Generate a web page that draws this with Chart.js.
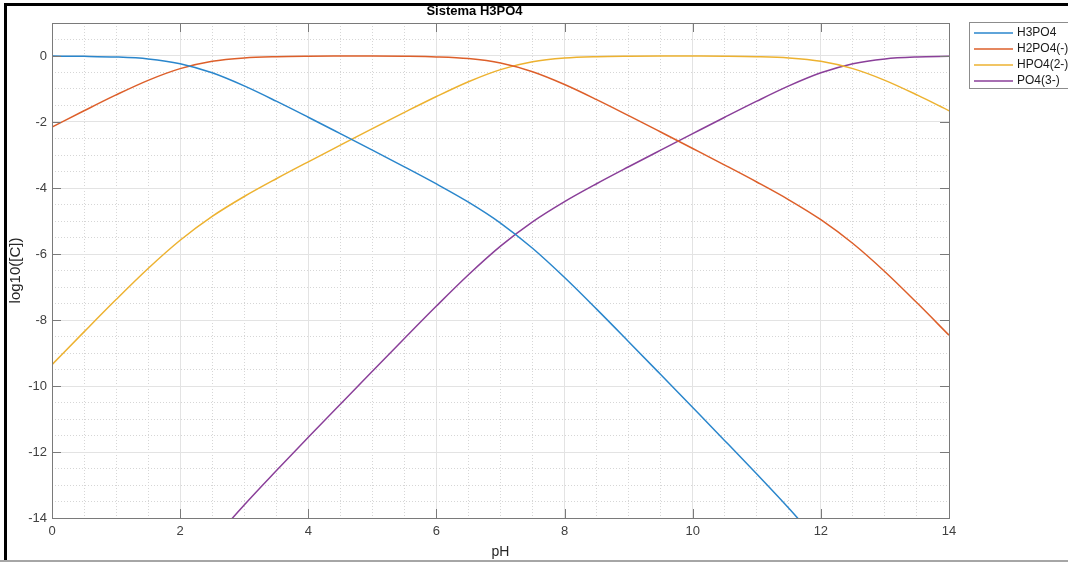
<!DOCTYPE html>
<html lang="es">
<head>
<meta charset="UTF-8">
<title>Sistema H3PO4</title>
<script src="https://cdn.jsdelivr.net/npm/chart.js@4.4.1/dist/chart.umd.min.js"></script>
<style>
  html, body { margin: 0; padding: 0; background: #fff; }
  #chartContainer { position: relative; width: 1068px; height: 562px; }
</style>
</head>
<body>
<div id="chartContainer"><canvas id="grafico"></canvas></div>
<script>
// valores (log10 de la concentracion, cada 0.5 de pH)
const ph = [0, 0.5, 1, 1.5, 2, 2.5, 3, 3.5, 4, 4.5, 5, 5.5, 6, 6.5, 7, 7.5,
            8, 8.5, 9, 9.5, 10, 10.5, 11, 11.5, 12, 12.5, 13, 13.5, 14];
const h3po4 = [-0.003, -0.010, -0.030, -0.088, -0.233, -0.510, -0.907, -1.369, -1.856, -2.353,
               -2.853, -3.359, -3.877, -4.429, -5.062, -5.827, -6.714, -7.671, -8.657, -9.653,
               -10.653, -11.656, -12.669, -13.707, -14.810, -16.03, -17.39, -18.83, -20.31];
const h2po4 = [-2.153, -1.660, -1.180, -0.738, -0.383, -0.160, -0.057, -0.019, -0.006, -0.003,
               -0.003, -0.009, -0.027, -0.079, -0.212, -0.477, -0.864, -1.321, -1.807, -2.303,
               -2.803, -3.306, -3.819, -4.357, -4.960, -5.683, -6.538, -7.480, -8.460];
const hpo4 = [-9.353, -8.360, -7.380, -6.438, -5.583, -4.860, -4.257, -3.719, -3.206, -2.703,
              -2.203, -1.709, -1.227, -0.779, -0.412, -0.177, -0.064, -0.021, -0.007, -0.003,
              -0.003, -0.006, -0.019, -0.057, -0.160, -0.383, -0.738, -1.180, -1.660];
const po4 = [-21.70, -20.21, -18.73, -17.29, -15.93, -14.71, -13.607, -12.569, -11.556, -10.553,
             -9.553, -8.559, -7.577, -6.629, -5.762, -5.027, -4.414, -3.871, -3.357, -2.853,
             -2.353, -1.856, -1.369, -0.907, -0.510, -0.233, -0.088, -0.030, -0.010];
const especies = ['H3PO4', 'H2PO4(-)', 'HPO4(2-)', 'PO4(3-)'];
const colores = ['#2a86cc', '#dd5f2a', '#edb230', '#8a3f99'];
const xTicks = [0, 2, 4, 6, 8, 10, 12, 14];
const yTicks = [0, -2, -4, -6, -8, -10, -12, -14];

const fuente = "'Liberation Sans', Arial, sans-serif";
const colorEje = '#7a7a7a';

function puntos(serie) {
    return ph.map((x, i) => ({ x: x, y: serie[i] }));
}

const series = [h3po4, h2po4, hpo4, po4];
const datasets = series.map((s, i) => ({
    label: especies[i],
    data: puntos(s),
    borderColor: colores[i],
    backgroundColor: colores[i],
    borderWidth: 1.5,
    pointRadius: 0,
    fill: false,
    cubicInterpolationMode: 'monotone'
}));

function esMayor(v, lista) {
    return lista.some(t => Math.abs(t - v) < 1e-6);
}

// cuadro, marcas hacia dentro, leyenda y marco de la captura
const marcoPlugin = {
    id: 'marco',
    beforeDraw(chart) {
        const c = chart.ctx;
        c.save();
        c.fillStyle = '#fff';
        c.fillRect(0, 0, chart.width, chart.height);
        c.restore();
    },
    afterDatasetsDraw(chart) {
        const c = chart.ctx;
        const a = chart.chartArea;
        const sx = chart.scales.x, sy = chart.scales.y;
        const largo = 9;
        c.save();
        c.strokeStyle = colorEje;
        c.lineWidth = 1;
        c.beginPath();
        xTicks.forEach(v => {
            const px = Math.round(sx.getPixelForValue(v)) + 0.5;
            c.moveTo(px, a.bottom); c.lineTo(px, a.bottom - largo);
            c.moveTo(px, a.top); c.lineTo(px, a.top + largo);
        });
        yTicks.forEach(v => {
            const py = Math.round(sy.getPixelForValue(v)) + 0.5;
            c.moveTo(a.left, py); c.lineTo(a.left + largo, py);
            c.moveTo(a.right, py); c.lineTo(a.right - largo, py);
        });
        c.stroke();
        c.strokeRect(Math.round(a.left) + 0.5, Math.round(a.top) + 0.5,
                     Math.round(a.right - a.left), Math.round(a.bottom - a.top));
        c.restore();
    },
    afterDraw(chart) {
        const c = chart.ctx;
        c.save();
        // leyenda
        c.fillStyle = '#fff';
        c.fillRect(970, 23, 110, 66);
        c.strokeStyle = '#8c8c8c';
        c.lineWidth = 1;
        c.strokeRect(969.5, 22.5, 110, 66);
        c.font = '12px ' + fuente;
        c.textBaseline = 'middle';
        c.textAlign = 'left';
        chart.data.datasets.forEach((d, i) => {
            const y = 33 + i * 16;
            c.strokeStyle = d.borderColor;
            c.lineWidth = 1.5;
            c.beginPath();
            c.moveTo(974, y); c.lineTo(1013, y);
            c.stroke();
            c.fillStyle = '#1a1a1a';
            c.fillText(d.label, 1017, y);
        });
        // marco de la captura
        c.fillStyle = '#000';
        c.fillRect(4, 3, 1064, 3);
        c.fillRect(4, 3, 3, 559);
        c.fillStyle = '#a6a6a6';
        c.fillRect(0, 560, 1068, 2);
        c.restore();
    }
};

const canvas = document.getElementById('grafico');
const chart = new Chart(canvas.getContext('2d'), {
    type: 'line',
    data: { datasets: datasets },
    options: {
        responsive: true,
        maintainAspectRatio: false,
        animation: false,
        layout: { padding: { left: 0, right: 119, top: 0, bottom: 0 } },
        plugins: {
            legend: { display: false },
            tooltip: { enabled: false },
            title: {
                display: true,
                text: 'Sistema H3PO4',
                color: '#000',
                font: { family: fuente, size: 13, weight: 'bold' },
                padding: { top: 4, bottom: 3.4 }
            }
        },
        scales: {
            x: {
                type: 'linear',
                min: 0,
                max: 14,
                afterFit: s => { s.height = 44; },
                ticks: {
                    stepSize: 0.5,
                    autoSkip: false,
                    maxRotation: 0,
                    padding: 6,
                    color: '#404040',
                    font: { family: fuente, size: 13 },
                    callback: v => esMayor(v, xTicks) ? String(v) : ''
                },
                grid: {
                    drawTicks: false,
                    color: ctx => esMayor(ctx.tick.value, xTicks) ? '#e3e3e3' : '#d6d6d6',
                    lineWidth: 1
                },
                border: {
                    display: false,
                    dash: ctx => (ctx.tick && !esMayor(ctx.tick.value, xTicks)) ? [1, 2] : []
                },
                title: {
                    display: true,
                    text: 'pH',
                    color: '#262626',
                    font: { family: fuente, size: 14 },
                    padding: { top: 0, bottom: 1 }
                }
            },
            y: {
                type: 'linear',
                min: -14,
                max: 1,
                afterFit: s => { s.width = 52; },
                ticks: {
                    stepSize: 0.5,
                    autoSkip: false,
                    padding: 5,
                    color: '#404040',
                    font: { family: fuente, size: 13 },
                    callback: v => esMayor(v, yTicks) ? String(Math.round(v)) : ''
                },
                grid: {
                    drawTicks: false,
                    color: ctx => esMayor(ctx.tick.value, yTicks) ? '#e3e3e3' : '#d6d6d6',
                    lineWidth: 1
                },
                border: {
                    display: false,
                    dash: ctx => (ctx.tick && !esMayor(ctx.tick.value, yTicks)) ? [1, 2] : []
                },
                title: {
                    display: true,
                    text: 'log10([C])',
                    color: '#262626',
                    font: { family: fuente, size: 15 },
                    padding: { top: 7, bottom: 0 }
                }
            }
        }
    },
    plugins: [marcoPlugin]
});
</script>
</body>
</html>
